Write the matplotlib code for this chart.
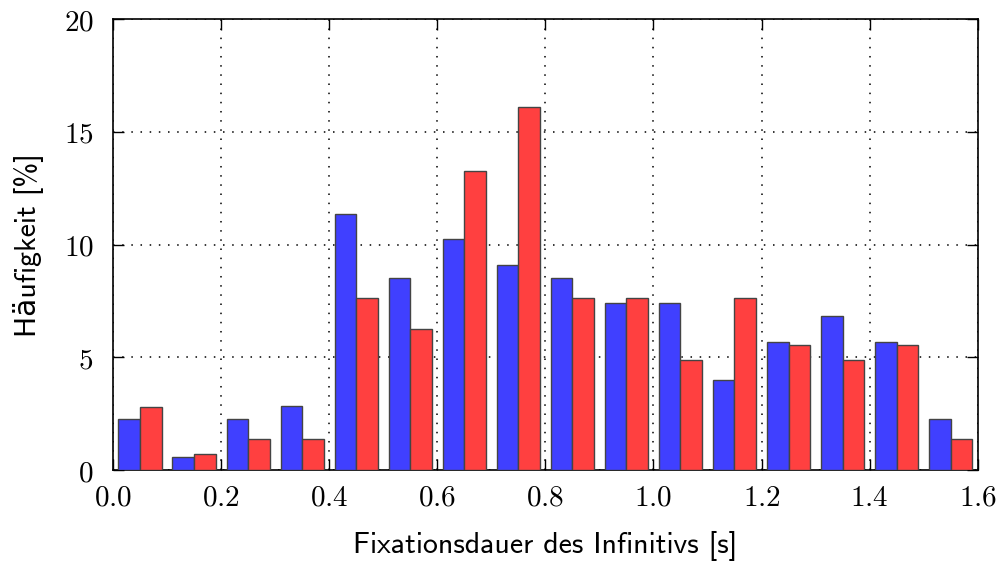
import matplotlib.pyplot as plt
from matplotlib.ticker import FuncFormatter
import numpy as np

plt.rcParams['mathtext.fontset'] = 'cm'

bin_starts = [0.0, 0.1, 0.2, 0.3, 0.4, 0.5, 0.6, 0.7, 0.8, 0.9, 1.0, 1.1, 1.2, 1.3, 1.4, 1.5]
blue_vals = [2.27, 0.57, 2.27, 2.84, 11.36, 8.52, 10.23, 9.09, 8.52, 7.39, 7.39, 3.98, 5.68, 6.82, 5.68, 2.27]
red_vals = [2.78, 0.69, 1.39, 1.39, 7.64, 6.25, 13.28, 16.1, 7.64, 7.64, 4.86, 7.64, 5.56, 4.86, 5.56, 1.39]

xticks = [0.0, 0.2, 0.4, 0.6, 0.8, 1.0, 1.2, 1.4, 1.6]
yticks = [0, 5, 10, 15, 20]

fig = plt.figure(figsize=(10.01, 5.66), dpi=100)
ax = fig.add_axes([0.1129, 0.1696, 0.9767 - 0.1129, 0.9659 - 0.1696])

x = np.array(bin_starts)
ax.bar(x + 0.01, blue_vals, width=0.04, align='edge', color='#4040ff',
       edgecolor='#444444', linewidth=1.0, zorder=3)
ax.bar(x + 0.05, red_vals, width=0.04, align='edge', color='#ff4040',
       edgecolor='#444444', linewidth=1.0, zorder=3)

ax.set_xlim(0, 1.6)
ax.set_ylim(0, 20)
ax.set_xticks(xticks)
ax.set_yticks(yticks)
ax.xaxis.set_major_formatter(FuncFormatter(lambda v, p: r'$%.1f$' % v))
ax.yaxis.set_major_formatter(FuncFormatter(lambda v, p: r'$%d$' % v))
ax.tick_params(direction='in', length=8, width=1, top=True, right=True,
               labelsize=21, colors='black')
ax.tick_params(axis='x', pad=10)
ax.tick_params(axis='y', pad=14)
ax.grid(True, color='black', linestyle=(0, (1, 5)), linewidth=1.1)
ax.set_axisbelow(True)
for s in ax.spines.values():
    s.set_linewidth(1.2)

sans = ['cmss10', 'DejaVu Sans']
ax.set_xlabel('Fixationsdauer des Infinitivs [s]', fontsize=21.5, family=sans, labelpad=14)
ax.set_ylabel('Häufigkeit [%]', fontsize=21.5, family=sans, labelpad=14)

fig.savefig('out.png', dpi=100)
